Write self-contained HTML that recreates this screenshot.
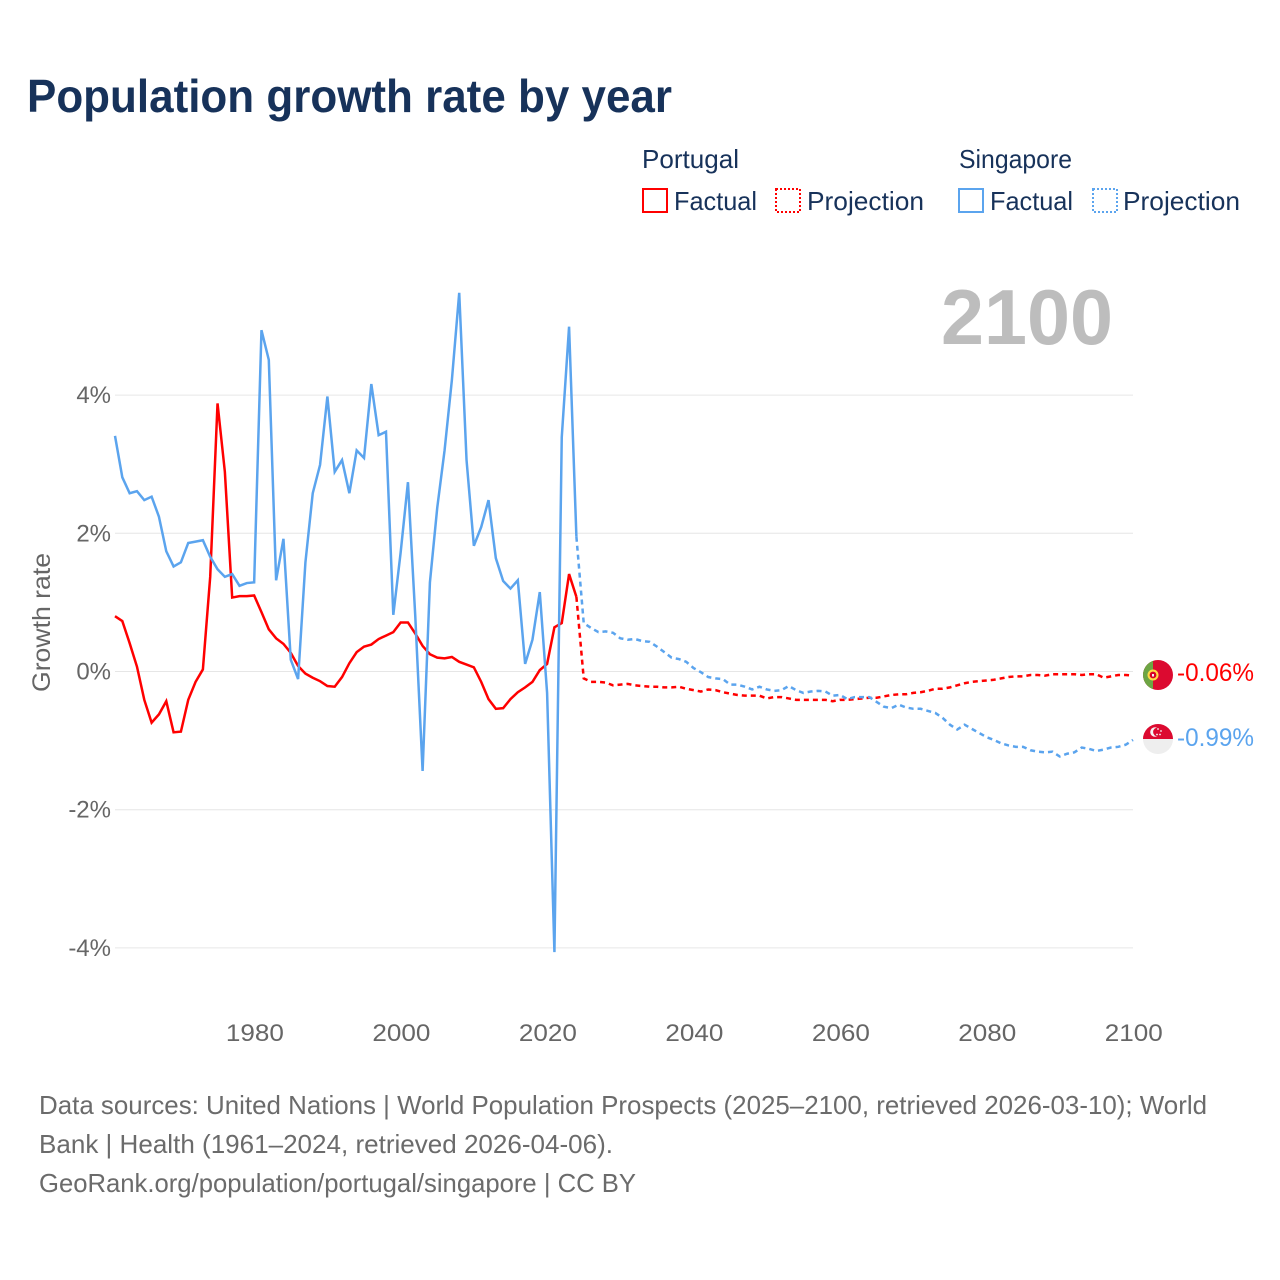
<!DOCTYPE html>
<html lang="en">
<head>
<meta charset="utf-8">
<title>Population growth rate by year</title>
<style>
html,body{margin:0;padding:0;background:#fff;}
svg{display:block;font-family:"Liberation Sans",sans-serif;}
</style>
</head>
<body>
<svg id="chart" xmlns="http://www.w3.org/2000/svg" width="1280" height="1280" viewBox="0 0 1280 1280">
  <text x="27" y="112" font-size="46" font-weight="700" fill="#17325a" textLength="645" lengthAdjust="spacingAndGlyphs">Population growth rate by year</text>

  <g font-size="26" fill="#17325a">
    <text x="642" y="168" textLength="97" lengthAdjust="spacingAndGlyphs">Portugal</text>
    <rect x="643" y="189" width="24" height="23" fill="none" stroke="#ff0000" stroke-width="2"/>
    <text x="674" y="210" textLength="83" lengthAdjust="spacingAndGlyphs">Factual</text>
    <rect x="776" y="189" width="24" height="23" fill="none" stroke="#ff0000" stroke-width="2" stroke-dasharray="2,2"/>
    <text x="807" y="210" textLength="117" lengthAdjust="spacingAndGlyphs">Projection</text>
    <text x="959" y="168" textLength="113" lengthAdjust="spacingAndGlyphs">Singapore</text>
    <rect x="959" y="189" width="24" height="23" fill="none" stroke="#5ba4ee" stroke-width="2"/>
    <text x="990" y="210" textLength="83" lengthAdjust="spacingAndGlyphs">Factual</text>
    <rect x="1093" y="189" width="24" height="23" fill="none" stroke="#5ba4ee" stroke-width="2" stroke-dasharray="2,2"/>
    <text x="1123" y="210" textLength="117" lengthAdjust="spacingAndGlyphs">Projection</text>
  </g>

  <text x="941" y="344" font-size="78" font-weight="700" fill="#bdbdbd" textLength="172" lengthAdjust="spacingAndGlyphs">2100</text>
  <text transform="translate(50,692) rotate(-90)" font-size="25" fill="#666666" textLength="139" lengthAdjust="spacingAndGlyphs">Growth rate</text>

  <g id="grid"></g>
  <g id="yticks"></g>
  <g id="xticks"></g>
  <g id="series"></g>

  <defs>
    <clipPath id="clip-pt"><circle cx="1158" cy="675" r="15"/></clipPath>
    <clipPath id="clip-sg"><circle cx="1158" cy="739" r="15"/></clipPath>
  </defs>
  <g clip-path="url(#clip-pt)">
    <rect x="1143" y="660" width="30" height="30" fill="#dc0a30"/>
    <rect x="1143" y="660" width="10" height="30" fill="#6da544"/>
    <circle cx="1153" cy="675" r="5.5" fill="#ffda44"/>
    <circle cx="1153" cy="675" r="3.4" fill="#d80027"/>
    <rect x="1152" y="674" width="2" height="2.5" fill="#f0f0f0"/>
  </g>
  <g clip-path="url(#clip-sg)">
    <rect x="1143" y="724" width="30" height="30" fill="#eeeeee"/>
    <rect x="1143" y="724" width="30" height="15" fill="#dc0a30"/>
    <circle cx="1155" cy="732" r="4.8" fill="#f4f4f4"/>
    <circle cx="1157.5" cy="732" r="4.4" fill="#dc0a30"/>
    <circle cx="1158" cy="729" r="0.9" fill="#f4f4f4"/>
    <circle cx="1161" cy="731" r="0.9" fill="#f4f4f4"/>
    <circle cx="1160" cy="734.5" r="0.9" fill="#f4f4f4"/>
    <circle cx="1157" cy="734.5" r="0.9" fill="#f4f4f4"/>
  </g>
  <text x="1177" y="681" font-size="25" fill="#ff0000" textLength="77" lengthAdjust="spacingAndGlyphs">-0.06%</text>
  <text x="1177" y="746" font-size="25" fill="#5ba4ee" textLength="77" lengthAdjust="spacingAndGlyphs">-0.99%</text>

  <g font-size="26" fill="#6b6b6b">
    <text x="39" y="1114" textLength="1168" lengthAdjust="spacingAndGlyphs">Data sources: United Nations | World Population Prospects (2025–2100, retrieved 2026-03-10); World</text>
    <text x="39" y="1153" textLength="574" lengthAdjust="spacingAndGlyphs">Bank | Health (1961–2024, retrieved 2026-04-06).</text>
    <text x="39" y="1192" textLength="597" lengthAdjust="spacingAndGlyphs">GeoRank.org/population/portugal/singapore | CC BY</text>
  </g>
</svg>
<script>
const factualStartYear = 1961;
const projectionStartYear = 2024;
const xTickYears = [1980, 2000, 2020, 2040, 2060, 2080, 2100];
const yTickValues = [4, 2, 0, -2, -4];
const yTickLabels = ['4%', '2%', '0%', '-2%', '-4%'];

const portugalFactual = [0.8,0.73,0.41,0.07,-0.41,-0.74,-0.62,-0.43,-0.88,-0.87,-0.41,-0.15,0.03,1.37,3.88,2.89,1.07,1.09,1.09,1.1,0.86,0.61,0.48,0.4,0.27,0.08,-0.03,-0.09,-0.14,-0.21,-0.22,-0.08,0.12,0.28,0.36,0.39,0.47,0.52,0.57,0.71,0.71,0.55,0.37,0.25,0.2,0.19,0.21,0.14,0.1,0.06,-0.15,-0.4,-0.54,-0.53,-0.4,-0.3,-0.23,-0.15,0.02,0.11,0.64,0.7,1.41,1.08];
const portugalProjection = [1.08,-0.1,-0.15,-0.15,-0.16,-0.2,-0.19,-0.18,-0.2,-0.21,-0.22,-0.22,-0.23,-0.23,-0.22,-0.25,-0.27,-0.29,-0.26,-0.27,-0.3,-0.32,-0.34,-0.35,-0.35,-0.35,-0.39,-0.37,-0.37,-0.39,-0.41,-0.41,-0.41,-0.41,-0.41,-0.43,-0.41,-0.41,-0.4,-0.39,-0.38,-0.38,-0.36,-0.34,-0.33,-0.33,-0.31,-0.3,-0.28,-0.25,-0.25,-0.23,-0.2,-0.17,-0.15,-0.14,-0.13,-0.12,-0.1,-0.08,-0.07,-0.07,-0.05,-0.05,-0.06,-0.04,-0.04,-0.04,-0.04,-0.05,-0.04,-0.04,-0.09,-0.07,-0.05,-0.05,-0.06];
const singaporeFactual = [3.41,2.81,2.58,2.61,2.48,2.53,2.24,1.74,1.52,1.58,1.86,1.88,1.9,1.66,1.48,1.37,1.41,1.24,1.28,1.29,4.94,4.51,1.32,1.92,0.17,-0.11,1.58,2.58,2.99,3.98,2.89,3.06,2.58,3.2,3.09,4.16,3.42,3.47,0.82,1.72,2.74,0.8,-1.44,1.29,2.37,3.2,4.22,5.48,3.06,1.82,2.09,2.48,1.64,1.31,1.2,1.32,0.11,0.46,1.15,-0.31,-4.06,3.39,4.99,1.95];
const singaporeProjection = [1.95,0.7,0.63,0.57,0.58,0.56,0.48,0.46,0.47,0.44,0.43,0.36,0.28,0.2,0.18,0.14,0.05,-0.01,-0.08,-0.1,-0.11,-0.19,-0.19,-0.22,-0.26,-0.22,-0.26,-0.28,-0.27,-0.21,-0.27,-0.31,-0.29,-0.28,-0.29,-0.35,-0.34,-0.4,-0.37,-0.37,-0.37,-0.44,-0.51,-0.53,-0.48,-0.52,-0.54,-0.54,-0.57,-0.6,-0.67,-0.77,-0.84,-0.77,-0.83,-0.89,-0.95,-0.99,-1.04,-1.07,-1.09,-1.09,-1.14,-1.16,-1.17,-1.16,-1.23,-1.19,-1.17,-1.1,-1.12,-1.15,-1.13,-1.1,-1.09,-1.06,-0.99];

const SVGNS = 'http://www.w3.org/2000/svg';
const xScale = function (year) { return 115 + (year - 1961) * (1133 - 115) / (2100 - 1961); };
const yScale = function (value) { return 671.5 - value * 69.1; };

const gridGroup = document.getElementById('grid');
const yTickGroup = document.getElementById('yticks');
const xTickGroup = document.getElementById('xticks');
const seriesGroup = document.getElementById('series');

yTickValues.forEach(function (value, i) {
  const line = document.createElementNS(SVGNS, 'line');
  
  
  line.setAttribute('x1', 115);
  line.setAttribute('x2', 1133);
  line.setAttribute('y1', yScale(value));
  line.setAttribute('y2', yScale(value));
  line.setAttribute('stroke', '#e6e6e6');
  line.setAttribute('stroke-width', '1');
  gridGroup.appendChild(line);

  const label = document.createElementNS(SVGNS, 'text');
  
  
  label.setAttribute('x', 111);
  label.setAttribute('y', yScale(value) + 8);
  label.setAttribute('text-anchor', 'end');
  label.setAttribute('font-size', '24');
  label.setAttribute('fill', '#666666');
  label.textContent = yTickLabels[i];
  yTickGroup.appendChild(label);
});

xTickYears.forEach(function (year) {
  const label = document.createElementNS(SVGNS, 'text');
  
  
  label.setAttribute('x', xScale(year) + 0.8);
  label.setAttribute('y', 1041);
  label.setAttribute('text-anchor', 'middle');
  label.setAttribute('font-size', '24');
  label.setAttribute('fill', '#666666');
  label.setAttribute('textLength', '58');
  label.setAttribute('lengthAdjust', 'spacingAndGlyphs');
  label.textContent = String(year);
  xTickGroup.appendChild(label);
});

function seriesPoints(values, startYear) {
  return values.map(function (value, i) {
    return xScale(startYear + i).toFixed(2) + ',' + yScale(value).toFixed(2);
  }).join(' ');
}

function makeLine(values, startYear, color, dash) {
  const line = document.createElementNS(SVGNS, 'polyline');
  line.setAttribute('points', seriesPoints(values, startYear));
  line.setAttribute('fill', 'none');
  line.setAttribute('stroke', color);
  line.setAttribute('stroke-width', '2.5');
  line.setAttribute('stroke-linejoin', 'miter');
  if (dash) {
    line.setAttribute('stroke-dasharray', dash);
  }
  seriesGroup.appendChild(line);
  return line;
}

const portugalFactualLine = makeLine(portugalFactual, factualStartYear, '#ff0000', '');



const portugalProjectionLine = makeLine(portugalProjection, projectionStartYear, '#ff0000', '5,4');



const singaporeFactualLine = makeLine(singaporeFactual, factualStartYear, '#5ba4ee', '');



const singaporeProjectionLine = makeLine(singaporeProjection, projectionStartYear, '#5ba4ee', '5,4');


</script>
</body>
</html>
